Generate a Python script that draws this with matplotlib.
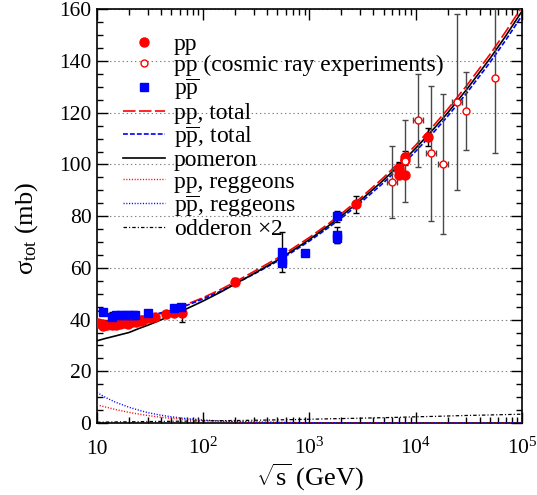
import matplotlib
matplotlib.use("Agg")
import matplotlib.pyplot as plt
from matplotlib.ticker import FixedLocator, MultipleLocator, NullFormatter

plt.rcParams['font.family'] = ['Liberation Serif', 'DejaVu Serif']
plt.rcParams['mathtext.fontset'] = 'custom'
plt.rcParams['mathtext.rm'] = 'Liberation Serif'
plt.rcParams['mathtext.it'] = 'Liberation Serif:italic'
plt.rcParams['mathtext.bf'] = 'Liberation Serif:bold'
plt.rcParams['lines.scale_dashes'] = False

# pp accelerator data (sqrt(s) in GeV, sigma_tot in mb)
pp_rs = [10.2, 11.1, 11.5, 12.4, 13.8, 15.2, 16.6, 18.0, 19.4, 21.4, 23.5, 25.8, 27.4,
         30.6, 35.4, 44.7, 52.8, 62.5, 200, 2760, 7000, 7000, 7000, 8000, 8000, 8000, 13000]
pp_sig = [38.6, 38.2, 37.4, 38.0, 37.8, 38.0, 38.1, 38.6, 38.4, 38.9, 39.1, 39.6, 39.9,
          40.5, 41.0, 42.2, 42.7, 42.4, 54.7, 84.7, 98.6, 98.0, 96.0, 101.9, 102.9, 96.1, 110.6]
pp_err = [0.5, 0.4, 0.5, 0.4, 0.5, 0.4, 0.4, 0.6, 0.4, 0.4, 0.3, 0.4, 0.3,
          0.3, 0.4, 0.3, 0.3, 3.5, 1.5, 3.3, 2.2, 2.5, 1.3, 2.1, 2.3, 0.9, 3.4]

# pp from cosmic ray experiments
cr_rs = [6010, 8000, 10570, 13840, 18150, 24270, 29700, 55700]
cr_sig = [93.3, 101.3, 117.2, 104.3, 100.3, 124.3, 120.6, 133.3]
cr_err = [14, 16, 18, 26, 27, 34, 15, 29]
cr_rs_lo = [5390, 8000, 9480, 12410, 16280, 21770, 29700, 55700]
cr_rs_hi = [6700, 8000, 11790, 15440, 20250, 27070, 29700, 55700]

# p-pbar data
ppb_rs = [11.5, 13.8, 15.0, 16.4, 18.2, 19.4, 21.7, 23.0, 30.4, 52.6, 62.3,
          546, 546, 546, 900, 1800, 1800, 1800]
ppb_sig = [43.1, 41.0, 41.6, 41.9, 41.7, 41.8, 41.7, 41.9, 42.7, 44.4, 44.9,
           66.2, 63.0, 61.9, 65.6, 80.0, 72.8, 71.7]
ppb_err = [0.6, 1.8, 0.5, 0.5, 0.5, 0.4, 0.4, 0.4, 0.4, 0.4, 0.4,
           7.6, 1.5, 1.0, 0.9, 2.2, 3.1, 2.0]

# model curves
curve_rs = [10, 12, 15, 20, 25, 30, 40, 50, 70, 100, 150, 200, 300, 500, 700, 1000,
            1500, 2000, 3000, 5000, 7000, 1e4, 1.5e4, 2e4, 3e4, 5e4, 7e4, 1e5]
pp_total = [38.9, 39.0, 39.1, 39.4, 40.2, 40.9, 42.3, 43.5, 45.9, 48.5, 51.9, 54.6, 58.6, 63.8,
            67.6, 71.8, 77.0, 81.0, 86.9, 95.0, 100.9, 107.5, 115.4, 121.4, 130.4, 142.6, 151.3, 161.0]
ppb_total = [43.4, 42.4, 41.5, 40.9, 41.2, 41.5, 42.6, 43.6, 45.5, 48.0, 51.2, 53.9, 57.6, 62.6,
             66.3, 70.4, 75.5, 79.3, 85.1, 93.0, 98.7, 105.1, 112.8, 118.7, 127.5, 139.5, 148.0, 157.6]
pomeron = [31.8, 32.7, 33.7, 35.0, 36.6, 37.8, 39.9, 41.5, 44.2, 47.2, 50.9, 53.8, 57.8, 63.0,
           66.8, 71.0, 76.2, 80.1, 86.0, 94.0, 99.8, 106.3, 114.1, 120.0, 128.9, 141.0, 149.6, 159.3]
pp_regge = [7.0, 6.2, 5.2, 4.1, 3.4, 2.9, 2.2, 1.8, 1.35, 0.95, 0.65, 0.5, 0.33, 0.2,
            0.14, 0.1, 0.07, 0.05, 0.035, 0.02, 0.015, 0.01, 0.007, 0.005, 0.004, 0.002, 0.002, 0.001]
ppb_regge = [11.8, 9.9, 8.0, 6.1, 4.9, 4.0, 3.0, 2.4, 1.7, 1.15, 0.75, 0.55, 0.36, 0.21,
             0.15, 0.1, 0.07, 0.05, 0.035, 0.02, 0.015, 0.01, 0.007, 0.005, 0.004, 0.002, 0.002, 0.001]
odderon_x2 = [0.3, 0.35, 0.4, 0.45, 0.5, 0.55, 0.6, 0.65, 0.72, 0.8, 0.9, 0.95, 1.05, 1.2,
              1.3, 1.45, 1.6, 1.7, 1.85, 2.05, 2.2, 2.4, 2.55, 2.7, 2.9, 3.1, 3.25, 3.4]

fig = plt.figure(figsize=(5.37, 4.95), dpi=100)
ax = fig.add_axes([0.1806, 0.1455, 0.7914, 0.8355])

# curves
ax.plot(curve_rs, pp_total, color='#ff0000', lw=1.2, dashes=(9, 2.5), label='pp, total', zorder=3)
ax.plot(curve_rs, ppb_total, color='#0000ff', lw=1.2, dashes=(3.5, 1.5),
        label=r'p$\overline{\rm p}$, total', zorder=3)
ax.plot(curve_rs, pomeron, color='black', lw=1.2, label='pomeron', zorder=3)
ax.plot(curve_rs, pp_regge, color='#ff0000', lw=1.0, dashes=(0.8, 1.2), label='pp, reggeons', zorder=3)
ax.plot(curve_rs, ppb_regge, color='#0000ff', lw=1.0, dashes=(0.8, 1.2),
        label=r'p$\overline{\rm p}$, reggeons', zorder=3)
ax.plot(curve_rs, odderon_x2, color='black', lw=0.9, dashes=(2.5, 1.5, 0.8, 1.5),
        label='odderon $\\times$2', zorder=3)

# error bars
ax.errorbar(pp_rs, pp_sig, yerr=pp_err, fmt='none', ecolor='black', elinewidth=1, capsize=2, zorder=4)
ax.errorbar(ppb_rs, ppb_sig, yerr=ppb_err, fmt='none', ecolor='black', elinewidth=1, capsize=2, zorder=4)
cr_xerr = [[r - lo for r, lo in zip(cr_rs, cr_rs_lo)], [hi - r for r, hi in zip(cr_rs, cr_rs_hi)]]
ax.errorbar(cr_rs, cr_sig, yerr=cr_err, xerr=cr_xerr, fmt='none', ecolor='#484848',
            elinewidth=1, capsize=2, zorder=4)

# markers
ax.plot(pp_rs, pp_sig, 'o', color='#ff0000', ms=6.5, mec='#ff0000', zorder=5, label='pp')
ax.plot(cr_rs, cr_sig, 'o', mfc='white', mec='#ff0000', mew=1.0, ms=5,
        zorder=5, label='pp (cosmic ray experiments)')
ax.plot(ppb_rs, ppb_sig, 's', color='#0000ff', ms=5.5, zorder=5, label=r'p$\overline{\rm p}$')

ax.set_xscale('log')
ax.set_xlim(10, 1e5)
ax.set_ylim(0, 160)

ax.xaxis.set_major_locator(FixedLocator([10, 1e2, 1e3, 1e4, 1e5]))
ax.set_xticklabels(['10', '$10^{2}$', '$10^{3}$', '$10^{4}$', '$10^{5}$'])
minor_x = [m * 10 ** d for d in range(1, 5) for m in range(2, 10)]
ax.xaxis.set_minor_locator(FixedLocator(minor_x))
ax.xaxis.set_minor_formatter(NullFormatter())
ax.yaxis.set_major_locator(MultipleLocator(20))
ax.yaxis.set_minor_locator(MultipleLocator(5))

ax.tick_params(which='both', direction='in', top=True, right=True, width=1.0, labelsize=15.5)
ax.tick_params(which='major', length=8)
ax.tick_params(which='minor', length=4.3)
ax.tick_params(axis='y', pad=4)
ax.tick_params(axis='x', pad=22)
for lab in ax.get_xticklabels():
    lab.set_verticalalignment('baseline')
for sp in ax.spines.values():
    sp.set_linewidth(1.2)

ax.yaxis.grid(True, which='major', color='#808080', lw=0.8, dashes=(1, 2))
ax.set_axisbelow(True)

ax.set_xlabel(r'$\sqrt{\rm s}$ (GeV)', fontsize=19)
ax.set_ylabel('σ$_{\\rm tot}$ (mb)', fontsize=19)
ax.yaxis.set_label_coords(-0.135, 0.47)
ax.xaxis.set_label_coords(0.5, -0.093)

handles, labels = ax.get_legend_handles_labels()
order = ['pp', 'pp (cosmic ray experiments)', r'p$\overline{\rm p}$', 'pp, total',
         r'p$\overline{\rm p}$, total', 'pomeron', 'pp, reggeons',
         r'p$\overline{\rm p}$, reggeons', 'odderon $\\times$2']
hmap = dict(zip(labels, handles))
ax.legend([hmap[k] for k in order], order, loc='upper left', bbox_to_anchor=(0.061, 0.942),
          frameon=False, fontsize=17, handlelength=1.78, handletextpad=0.38,
          labelspacing=0.0, borderpad=0, borderaxespad=0, numpoints=1)

fig.savefig('out.png', dpi=100)
